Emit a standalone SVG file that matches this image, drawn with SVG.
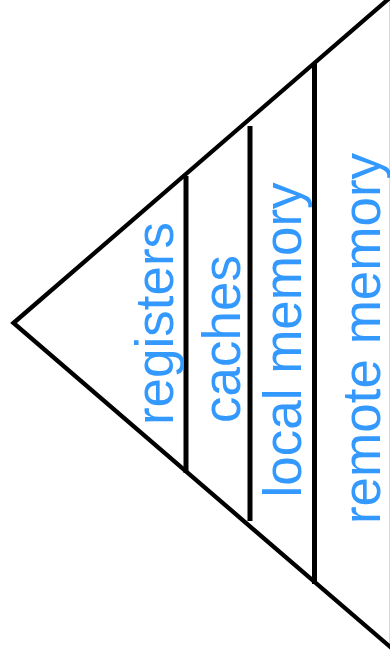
<svg xmlns="http://www.w3.org/2000/svg" width="390" height="663" viewBox="0 0 390 663">
<style>
.edge{fill:none;stroke:#000;stroke-width:4.3;stroke-linejoin:miter}
.div{stroke:#000;stroke-width:5;fill:none}
.lbl{font-family:"Liberation Sans",Arial,sans-serif;font-size:53px;fill:#3399ff;text-anchor:middle}
</style>
<rect width="390" height="663" fill="#fff"/>
<g id="triangle">
<polygon class="edge" points="13.5,323 392,-4 392,648.5"/>
</g>
<g id="connectors">
<line class="div" x1="186" y1="176" x2="186" y2="473"/>
<line class="div" x1="250" y1="126" x2="250" y2="521"/>
<line class="div" x1="314.5" y1="63" x2="314.5" y2="584"/>
</g>
<g id="registers"><text class="lbl" transform="translate(173,323.5) rotate(-90)">registers</text></g>
<g id="caches"><text class="lbl" transform="translate(240,339) rotate(-90)">caches</text></g>
<g id="local-memory"><text class="lbl" transform="translate(301,340) rotate(-90)">local memory</text></g>
<g id="remote-memory"><text class="lbl" transform="translate(380,338.5) rotate(-90)">remote memory</text></g>
</svg>
